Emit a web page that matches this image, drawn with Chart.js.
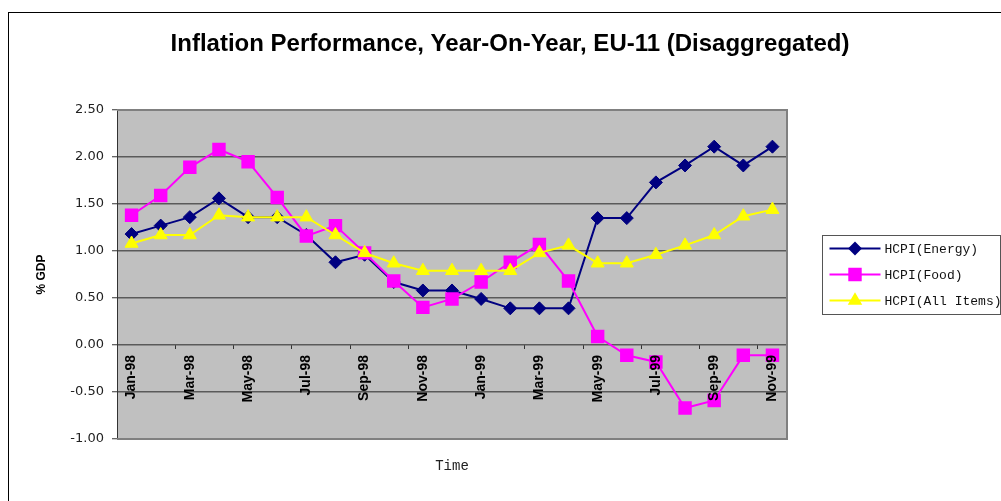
<!DOCTYPE html>
<html>
<head>
<meta charset="utf-8">
<script src="https://cdn.jsdelivr.net/npm/chart.js@4/dist/chart.umd.min.js"></script>
<style>
html,body{margin:0;padding:0;background:#fff;overflow:hidden}
#wrap{width:1001px;height:501px;position:relative}
</style>
</head>
<body>
<div id="wrap"><canvas id="c" width="1001" height="501"></canvas></div>
<script>
// ---- data ----
const months = ['Jan-98','Feb-98','Mar-98','Apr-98','May-98','Jun-98','Jul-98','Aug-98','Sep-98','Oct-98','Nov-98','Dec-98',
                'Jan-99','Feb-99','Mar-99','Apr-99','May-99','Jun-99','Jul-99','Aug-99','Sep-99','Oct-99','Nov-99'];
const energy   = [1.18,1.27,1.36,1.56,1.36,1.36,1.17,0.88,0.96,0.67,0.58,0.58,0.49,0.39,0.39,0.39,1.35,1.35,1.73,1.91,2.11,1.91,2.11];
const food     = [1.38,1.59,1.89,2.08,1.95,1.57,1.16,1.27,0.98,0.68,0.40,0.49,0.67,0.88,1.07,0.68,0.09,-0.11,-0.18,-0.67,-0.59,-0.11,-0.11];
const allItems = [1.08,1.17,1.17,1.38,1.36,1.36,1.36,1.17,0.98,0.87,0.79,0.79,0.79,0.79,0.98,1.06,0.87,0.87,0.96,1.06,1.17,1.37,1.44];
const seriesNames = ['HCPI(Energy)','HCPI(Food)','HCPI(All Items)'];
const yMin = -1, yMax = 2.5, yStep = 0.5;
const titleText = 'Inflation Performance, Year-On-Year, EU-11 (Disaggregated)';
const yTitle = '% GDP';
const xTitle = 'Time';

const framePlugin = {
  id: 'frame',
  beforeDraw(chart) {
    const {ctx, chartArea: a} = chart;
    ctx.save();
    ctx.fillStyle = '#ffffff';
    ctx.fillRect(0, 0, chart.width, chart.height);
    ctx.strokeStyle = '#000000';
    ctx.lineWidth = 1;
    ctx.strokeRect(8.5, 12.5, 1200, 700);
    ctx.fillStyle = '#C0C0C0';
    ctx.fillRect(a.left, a.top, a.right - a.left, a.bottom - a.top);
    ctx.restore();
  },
  beforeDatasetsDraw(chart) {
    const {ctx, chartArea: a} = chart;
    ctx.save();
    ctx.strokeStyle = '#808080';
    ctx.lineWidth = 2;
    ctx.beginPath();
    ctx.moveTo(a.left, a.top);
    ctx.lineTo(a.right, a.top);
    ctx.lineTo(a.right, a.bottom);
    ctx.lineTo(a.left, a.bottom);
    ctx.stroke();
    ctx.restore();
  },
  afterDraw(chart) {
    const {ctx, chartArea: a} = chart;
    const cy = (a.top + a.bottom) / 2;
    const bx = a.right + 35.5, by = Math.round(cy - 39.5) + 0.5, bw = 178, bh = 79;
    ctx.save();
    ctx.strokeStyle = '#555555';
    ctx.lineWidth = 1;
    ctx.strokeRect(bx, by, bw, bh);
    const rowGap = 26;
    chart.data.datasets.slice().sort((p, q) => p.legendIndex - q.legendIndex).forEach((ds, i) => {
      const y = cy + (i - 1) * rowGap;
      const x0 = bx + 7, x1 = bx + 58;
      ctx.strokeStyle = ds.borderColor;
      ctx.lineWidth = 2;
      ctx.beginPath();
      ctx.moveTo(x0, y);
      ctx.lineTo(x1, y);
      ctx.stroke();
      ctx.fillStyle = ds.pointBackgroundColor;
      ctx.strokeStyle = ds.borderColor;
      Chart.helpers.drawPoint(ctx, {pointStyle: ds.pointStyle, radius: ds.pointRadius * 0.85, borderWidth: 1, rotation: 0}, (x0 + x1) / 2, y);
      ctx.fillStyle = '#111111';
      ctx.font = '13px "Liberation Mono"';
      ctx.textBaseline = 'middle';
      ctx.textAlign = 'left';
      ctx.fillText(ds.label, x1 + 4, y + 1);
    });
    ctx.restore();
  }
};

new Chart(document.getElementById('c'), {
  type: 'line',
  data: {
    labels: months,
    datasets: [
      {label: seriesNames[0], data: energy, legendIndex: 0, order: 3,
       borderColor: '#000080', backgroundColor: '#000080', pointBackgroundColor: '#000080', pointBorderColor: '#000080',
       borderWidth: 2, pointStyle: 'rectRot', pointRadius: 6.5, pointBorderWidth: 1, tension: 0},
      {label: seriesNames[1], data: food, legendIndex: 1, order: 2,
       borderColor: '#FF00FF', backgroundColor: '#FF00FF', pointBackgroundColor: '#FF00FF', pointBorderColor: '#FF00FF',
       borderWidth: 2, pointStyle: 'rect', pointRadius: 9.5, pointBorderWidth: 0, tension: 0},
      {label: seriesNames[2], data: allItems, legendIndex: 2, order: 1,
       borderColor: '#FFFF00', backgroundColor: '#FFFF00', pointBackgroundColor: '#FFFF00', pointBorderColor: '#FFFF00',
       borderWidth: 2, pointStyle: 'triangle', pointRadius: 7.5, pointBorderWidth: 1, tension: 0}
    ]
  },
  options: {
    responsive: false,
    animation: false,
    events: [],
    layout: {padding: {left: 19, right: 0, top: 0, bottom: 0}},
    plugins: {
      legend: {display: false},
      tooltip: {enabled: false},
      title: {
        display: true, text: titleText, color: '#000000',
        font: {family: '"Liberation Sans", Arial, sans-serif', size: 24, weight: 'bold', lineHeight: 1.2},
        padding: {top: 30, bottom: 51.2}
      }
    },
    scales: {
      x: {
        type: 'category',
        position: {y: 0},
        offset: true,
        border: {display: false},
        grid: {
          display: true, drawOnChartArea: false, drawTicks: true, tickLength: 4, offset: true,
          tickColor: (c) => (c.index % 2 === 0 ? '#333333' : 'rgba(0,0,0,0)'), lineWidth: 1
        },
        ticks: {
          z: 1,
          autoSkip: false, maxRotation: 90, minRotation: 90, padding: 6, color: '#000000',
          font: {family: '"Liberation Sans", Arial, sans-serif', size: 14, weight: 'bold'},
          callback: function (v, i) { return i % 2 === 0 ? this.getLabelForValue(v) : ''; }
        }
      },
      x2: {
        type: 'category',
        labels: months,
        position: 'bottom',
        offset: true,
        grid: {display: false, drawTicks: false},
        border: {display: false},
        ticks: {display: false},
        title: {display: true, text: xTitle, color: '#222222',
                font: {family: '"Liberation Mono", monospace', size: 14, lineHeight: 1.2},
                padding: {top: 18.6, bottom: 26.6}}
      },
      y: {
        type: 'linear',
        position: 'left',
        min: yMin, max: yMax,
        afterFit(s) { s.width = 98; },
        border: {display: true, color: '#333333', width: 1},
        grid: {color: '#5a5a5a', lineWidth: 1.5, drawTicks: true, tickLength: 5, tickColor: '#333333', tickWidth: 1},
        ticks: {
          stepSize: yStep, padding: 8, color: '#222222',
          font: {family: '"DejaVu Sans", sans-serif', size: 13},
          callback: (v) => v.toFixed(2)
        },
        title: {display: true, text: yTitle, color: '#000000',
                font: {family: '"Liberation Sans", Arial, sans-serif', size: 12, weight: 'bold', lineHeight: 1.2},
                padding: {top: 15.8, bottom: 0}}
      },
      y2: {
        type: 'linear',
        position: 'right',
        afterFit(s) { s.width = 214; },
        grid: {display: false, drawTicks: false},
        border: {display: false},
        ticks: {display: false}
      }
    }
  },
  plugins: [framePlugin]
});
</script>
</body>
</html>
